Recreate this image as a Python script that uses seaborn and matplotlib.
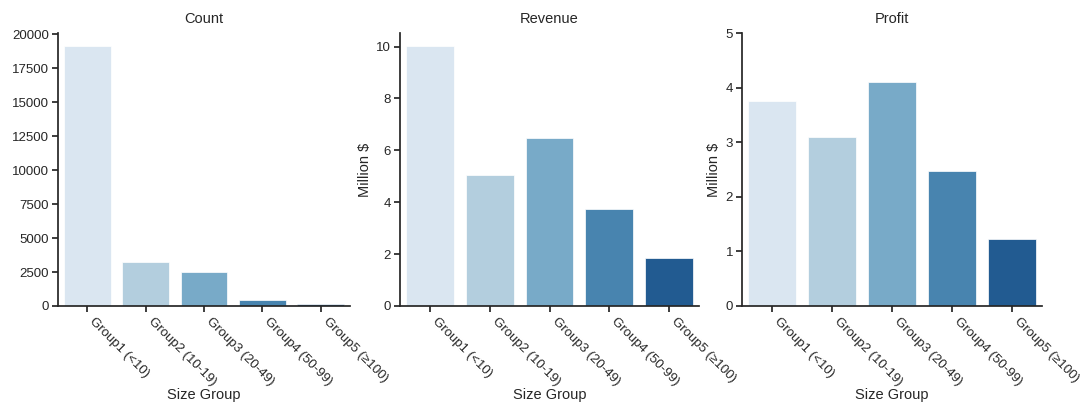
import matplotlib
matplotlib.use("Agg")
import matplotlib.pyplot as plt
import seaborn as sns
import pandas as pd

groups = ["Group1 (<10)", "Group2 (10-19)", "Group3 (20-49)", "Group4 (50-99)", "Group5 (≥100)"]
count = [19150, 3230, 2490, 430, 150]
revenue = [10.02, 5.06, 6.46, 3.74, 1.86]
profit = [3.76, 3.09, 4.11, 2.47, 1.23]

sns.set_theme(style="ticks")
plt.rcParams["font.family"] = ["Liberation Sans", "DejaVu Sans"]
plt.rcParams["font.size"] = 9.5

df = pd.DataFrame({"Size Group": groups, "Count": count, "Revenue": revenue, "Profit": profit})

fig = plt.figure(figsize=(10.8, 4.05), dpi=100)
positions = [
    (58 / 1080, 1 - 306 / 405, (350 - 58) / 1080, (306 - 33) / 405),
    (400 / 1080, 1 - 306 / 405, (699 - 400) / 1080, (306 - 33) / 405),
    (742 / 1080, 1 - 306 / 405, (1042 - 742) / 1080, (306 - 33) / 405),
]
palette = sns.color_palette("Blues", 5)
metrics = ["Count", "Revenue", "Profit"]
for i, (m, pos) in enumerate(zip(metrics, positions)):
    ax = fig.add_axes(pos)
    sns.barplot(data=df, x="Size Group", y=m, hue="Size Group", palette=palette,
                legend=False, ax=ax, edgecolor="white", linewidth=0.5)
    ax.set_title(m, fontsize=10.5, pad=7)
    ax.set_xlabel("Size Group", fontsize=10.5, labelpad=0)
    ax.set_ylabel("Million $" if m != "Count" else "", fontsize=10.5, labelpad=3)
    if m == "Profit":
        ax.set_ylim(0, 5)
    ax.tick_params(labelsize=9.5, length=4, pad=2.5)
    for lab in ax.get_xticklabels():
        lab.set_rotation(-45)
        lab.set_ha("left")
    sns.despine(ax=ax)

fig.savefig("out.png", dpi=100)
